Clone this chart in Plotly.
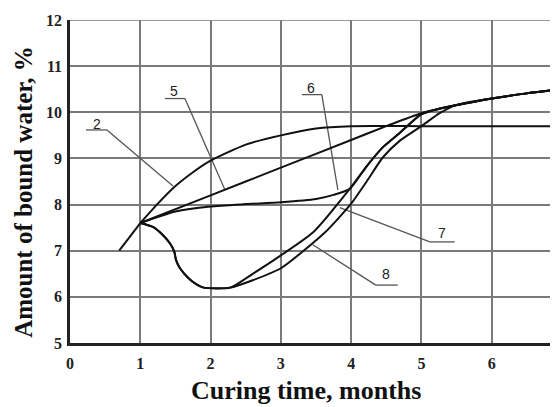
import plotly.graph_objects as go

# ---- data ----
x_start = [0.7, 1.0]
y_start = [7.0, 7.6]

x_c2 = [1.0, 1.25, 1.5, 1.75, 2.0, 2.5, 3.0, 3.5, 4.0, 5.0, 6.0, 7.0]
y_c2 = [7.6, 8.02, 8.4, 8.7, 8.95, 9.3, 9.5, 9.65, 9.7, 9.7, 9.7, 9.7]

x_c5 = [1.0, 2.0, 3.0, 4.0, 4.5, 5.0, 5.45, 6.0, 6.5, 7.0]
y_c5 = [7.6, 8.2, 8.8, 9.4, 9.7, 9.98, 10.14, 10.3, 10.41, 10.5]

x_c6 = [1.0, 1.5, 2.0, 2.5, 3.0, 3.5, 3.75, 3.98, 4.22, 4.45, 4.69, 5.0, 5.26, 5.45, 6.0, 6.5, 7.0]
y_c6 = [7.6, 7.85, 7.96, 8.01, 8.05, 8.12, 8.21, 8.34, 8.83, 9.24, 9.55, 9.96, 10.08, 10.14, 10.3, 10.41, 10.5]

x_c7 = [1.0, 1.185, 1.327, 1.423, 1.484, 1.508, 1.565, 1.683, 1.80, 1.9, 2.28, 2.6, 3.0, 3.46, 3.98, 4.22, 4.45, 4.69, 5.0, 5.26, 5.45, 6.0, 6.5, 7.0]
y_c7 = [7.6, 7.51, 7.33, 7.155, 6.98, 6.80, 6.62, 6.41, 6.27, 6.2, 6.2, 6.5, 6.9, 7.4, 8.34, 8.83, 9.24, 9.55, 9.96, 10.08, 10.14, 10.3, 10.41, 10.5]

x_c8 = [1.0, 1.185, 1.327, 1.423, 1.484, 1.508, 1.565, 1.683, 1.80, 1.9, 2.28, 2.6, 3.0, 3.63, 4.0, 4.22, 4.45, 4.69, 5.0, 5.26, 5.5, 6.0, 6.5, 7.0]
y_c8 = [7.6, 7.51, 7.33, 7.155, 6.98, 6.80, 6.62, 6.41, 6.27, 6.2, 6.2, 6.36, 6.62, 7.4, 8.02, 8.5, 9.02, 9.38, 9.7, 9.98, 10.16, 10.3, 10.41, 10.5]

# curve labels: name, text position, underline x-extent, underline y, leader start x, leader end
label_names = ["2", "5", "6", "7", "8"]
label_tx = [0.384, 1.479, 3.427, 5.289, 4.493]
label_ty = [9.745, 10.468, 10.532, 7.383, 6.489]
ul_x0 = [0.227, 1.351, 3.299, 5.119, 4.351]
ul_x1 = [0.526, 1.635, 3.583, 5.474, 4.664]
ul_y = [9.617, 10.298, 10.383, 7.191, 6.255]
ld_x0 = [0.526, 1.635, 3.583, 5.119, 4.351]
ld_x1 = [1.465, 2.204, 3.811, 3.839, 3.455]
ld_y1 = [8.404, 8.319, 8.319, 7.936, 7.128]

x_ticks = [0, 1, 2, 3, 4, 5, 6]
y_ticks = [5, 6, 7, 8, 9, 10, 11, 12]

SERIF = "Liberation Serif, Times New Roman, serif"
SANS = "Liberation Sans, Arial, sans-serif"
CURVE = dict(color="#111111", width=2, shape="spline", smoothing=0.6)
GRID = "#7a7a7a"

fig = go.Figure()

# leader lines and underlines
for i in range(len(label_names)):
    fig.add_trace(go.Scatter(x=[ul_x0[i], ul_x1[i]], y=[ul_y[i], ul_y[i]], mode="lines",
                             line=dict(color="#555555", width=1.3), hoverinfo="skip"))
    fig.add_trace(go.Scatter(x=[ld_x0[i], ld_x1[i]], y=[ul_y[i], ld_y1[i]], mode="lines",
                             line=dict(color="#555555", width=1.3), hoverinfo="skip"))

fig.add_trace(go.Scatter(x=x_start, y=y_start, mode="lines", line=dict(color="#111111", width=2)))
for xs, ys in [(x_c2, y_c2), (x_c5, y_c5), (x_c6, y_c6), (x_c7, y_c7), (x_c8, y_c8)]:
    fig.add_trace(go.Scatter(x=xs, y=ys, mode="lines", line=CURVE))

for i, t in enumerate(label_names):
    fig.add_annotation(x=label_tx[i], y=label_ty[i], text=t, showarrow=False,
                       xanchor="center", yanchor="middle",
                       font=dict(family=SANS, size=14, color="#222222"))

# top grid line at the end of the y range (plotly omits grid lines at the range edge)
fig.add_shape(type="line", xref="paper", x0=0, x1=1, yref="y", y0=y_ticks[-1], y1=y_ticks[-1],
              line=dict(color=GRID, width=1.6), layer="below")

# axis titles
fig.add_annotation(xref="paper", yref="paper", x=-0.0935, y=0.468, text="Amount of bound water, %",
                   textangle=-90, showarrow=False, xanchor="center", yanchor="middle",
                   font=dict(family=SERIF, size=25, color="#111111", weight="bold"))
fig.add_annotation(xref="paper", yref="paper", x=0.480, y=-0.146, text="Curing time, months",
                   showarrow=False, xanchor="center", yanchor="middle",
                   font=dict(family=SERIF, size=26, color="#111111", weight="bold"))
# partially visible "7" tick label at the cut-off right edge
fig.add_annotation(xref="paper", yref="paper", x=0.994, y=-0.0669, text="7",
                   showarrow=False, xanchor="center", yanchor="middle",
                   font=dict(family=SERIF, size=16, color="#222222", weight="bold"))

fig.update_layout(
    width=558, height=407,
    margin=dict(l=62, r=4, t=6, b=72),
    paper_bgcolor="white", plot_bgcolor="white",
    showlegend=False,
)
fig.update_xaxes(range=[0, 7], tickvals=x_ticks, showgrid=True, gridcolor=GRID, gridwidth=1.6,
                 showline=True, linecolor="#222222", linewidth=2.5, zeroline=False,
                 ticks="", ticklabelstandoff=4, ticklabeloverflow="allow",
                 tickfont=dict(family=SERIF, size=16, color="#222222", weight="bold"))
fig.update_yaxes(range=[5, 12], tickvals=y_ticks, showgrid=True, gridcolor=GRID, gridwidth=1.6,
                 showline=True, linecolor="#222222", linewidth=2.5, zeroline=False,
                 ticks="", ticklabelstandoff=2, ticklabeloverflow="allow",
                 tickfont=dict(family=SERIF, size=16, color="#222222", weight="bold"))

fig.write_html("out.html")
